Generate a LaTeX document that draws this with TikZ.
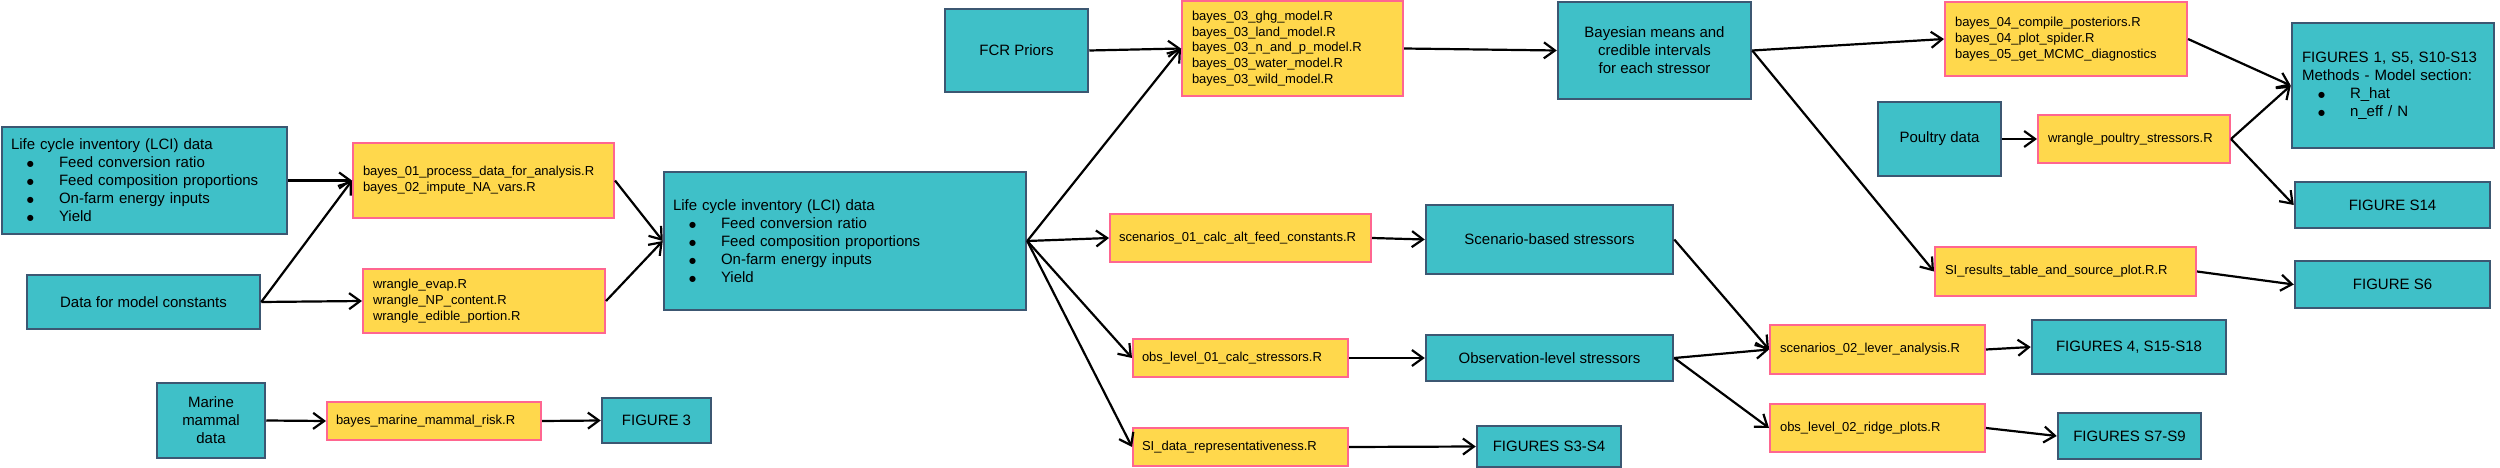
\documentclass[tikz,border=0pt]{standalone}
\usepackage{fontspec}
\setmainfont{Liberation Sans}
\newfontfamily\symfont{DejaVu Sans}
\usetikzlibrary{arrows.meta}
\definecolor{tealfill}{HTML}{3FC0C8}
\definecolor{tealline}{HTML}{3C5772}
\definecolor{yelfill}{HTML}{FFD84C}
\definecolor{pinkline}{HTML}{FF6690}
\newcommand\bitem[1]{\hspace*{16pt}\makebox[32pt][l]{\raisebox{1pt}{\symfont\fontsize{8}{8}\selectfont ●}}#1}
\begin{document}
\begin{tikzpicture}[x=1pt,y=-1pt,
  data/.style={draw=tealline, fill=tealfill, line width=2.5pt, font=\fontsize{15}{18}\selectfont, inner sep=0pt, align=center},
  script/.style={draw=pinkline, fill=yelfill, line width=2pt, font=\fontsize{13}{15.8}\selectfont, inner sep=0pt, align=left},
  arr/.style={-{Straight Barb[length=11pt,width=16pt]}, line width=2.2pt, black},
]
\useasboundingbox (0,0) rectangle (2500,468);

% data (teal) nodes
\node[data, minimum width=285pt, minimum height=107pt, text width=267pt, inner xsep=9pt, align=left] (lci1) at (144.5,180.5)
  {Life cycle inventory (LCI) data\\\bitem{Feed conversion ratio}\\\bitem{Feed composition proportions}\\\bitem{On-farm energy inputs}\\\bitem{Yield}};
\node[data, minimum width=233pt, minimum height=54pt] (const) at (143.5,302) {Data for model constants};
\node[data, minimum width=108pt, minimum height=75pt] (marine) at (211,420.5) {Marine\\mammal\\data};
\node[data, minimum width=109pt, minimum height=45pt] (fig3) at (656.5,420.5) {FIGURE 3};
\node[data, minimum width=362pt, minimum height=138pt, text width=344pt, inner xsep=9pt, align=left] (lci2) at (845,241)
  {Life cycle inventory (LCI) data\\\bitem{Feed conversion ratio}\\\bitem{Feed composition proportions}\\\bitem{On-farm energy inputs}\\\bitem{Yield}};
\node[data, minimum width=143pt, minimum height=83pt] (fcr) at (1016.5,50.5) {FCR Priors};
\node[data, minimum width=193pt, minimum height=97pt] (bayesm) at (1654.5,50.5) {Bayesian means and\\credible intervals\\for each stressor};
\node[data, minimum width=247pt, minimum height=69pt] (scen) at (1549.5,239.5) {Scenario-based stressors};
\node[data, minimum width=247pt, minimum height=46pt] (obs) at (1549.5,358) {Observation-level stressors};
\node[data, minimum width=144pt, minimum height=41pt] (figS3) at (1549,446.5) {FIGURES S3-S4};
\node[data, minimum width=123pt, minimum height=74pt] (poultry) at (1939.5,139) {Poultry data};
\node[data, minimum width=202pt, minimum height=125pt, text width=182pt, inner xsep=10pt, align=left] (fig1) at (2393,85.5)
  {FIGURES 1, S5, S10-S13\\Methods - Model section:\\\bitem{R\_hat}\\\bitem{n\_eff / N}};
\node[data, minimum width=195pt, minimum height=46pt] (figS14) at (2392.5,205) {FIGURE S14};
\node[data, minimum width=195pt, minimum height=47pt] (figS6) at (2392.5,284.5) {FIGURE S6};
\node[data, minimum width=194pt, minimum height=54pt] (fig4) at (2129,347) {FIGURES 4, S15-S18};
\node[data, minimum width=143pt, minimum height=46pt] (figS7) at (2129.5,436) {FIGURES S7-S9};

% script (yellow) nodes
\node[script, minimum width=261pt, minimum height=75pt, text width=241pt, inner xsep=10pt] (b01) at (483.5,180.5)
  {bayes\_01\_process\_data\_for\_analysis.R\\bayes\_02\_impute\_NA\_vars.R};
\node[script, minimum width=242pt, minimum height=64pt, text width=222pt, inner xsep=10pt] (wr) at (484,301)
  {wrangle\_evap.R\\wrangle\_NP\_content.R\\wrangle\_edible\_portion.R};
\node[script, minimum width=214pt, minimum height=38pt, text width=196pt, inner xsep=9pt] (bmm) at (434,421)
  {bayes\_marine\_mammal\_risk.R};
\node[script, minimum width=221pt, minimum height=95pt, text width=201pt, inner xsep=10pt] (b03) at (1292.5,48.5)
  {bayes\_03\_ghg\_model.R\\bayes\_03\_land\_model.R\\bayes\_03\_n\_and\_p\_model.R\\bayes\_03\_water\_model.R\\bayes\_03\_wild\_model.R};
\node[script, minimum width=261pt, minimum height=48pt, text width=243pt, inner xsep=9pt] (s01) at (1240.5,238)
  {scenarios\_01\_calc\_alt\_feed\_constants.R};
\node[script, minimum width=215pt, minimum height=38pt, text width=197pt, inner xsep=9pt] (o01) at (1240.5,358)
  {obs\_level\_01\_calc\_stressors.R};
\node[script, minimum width=215pt, minimum height=38pt, text width=197pt, inner xsep=9pt] (sid) at (1240.5,447)
  {SI\_data\_representativeness.R};
\node[script, minimum width=242pt, minimum height=74pt, text width=222pt, inner xsep=10pt] (b04) at (2066,39)
  {bayes\_04\_compile\_posteriors.R\\bayes\_04\_plot\_spider.R\\bayes\_05\_get\_MCMC\_diagnostics};
\node[script, minimum width=192pt, minimum height=48pt, text width=172pt, inner xsep=10pt] (wp) at (2134,139)
  {wrangle\_poultry\_stressors.R};
\node[script, minimum width=261pt, minimum height=49pt, text width=241pt, inner xsep=10pt] (sir) at (2065.5,271.5)
  {SI\_results\_table\_and\_source\_plot.R.R};
\node[script, minimum width=215pt, minimum height=49pt, text width=195pt, inner xsep=10pt] (s02) at (1877.5,349.5)
  {scenarios\_02\_lever\_analysis.R};
\node[script, minimum width=215pt, minimum height=48pt, text width=195pt, inner xsep=10pt] (o02) at (1877.5,428)
  {obs\_level\_02\_ridge\_plots.R};

% connectors
\draw[arr] (lci1.east) -- (b01.west);
\draw[arr] (const.east) -- (b01.west);
\draw[arr] (const.east) -- (wr.west);
\draw[arr] (b01.east) -- (lci2.west);
\draw[arr] (wr.east) -- (lci2.west);
\draw[arr] (marine.east) -- (bmm.west);
\draw[arr] (bmm.east) -- (fig3.west);
\draw[arr] (lci2.east) -- (b03.west);
\draw[arr] (lci2.east) -- (s01.west);
\draw[arr] (lci2.east) -- (o01.west);
\draw[arr] (lci2.east) -- (sid.west);
\draw[arr] (fcr.east) -- (b03.west);
\draw[arr] (b03.east) -- (bayesm.west);
\draw[arr] (bayesm.east) -- (b04.west);
\draw[arr] (bayesm.east) -- (sir.west);
\draw[arr] (s01.east) -- (scen.west);
\draw[arr] (o01.east) -- (obs.west);
\draw[arr] (sid.east) -- (figS3.west);
\draw[arr] (scen.east) -- (s02.west);
\draw[arr] (obs.east) -- (s02.west);
\draw[arr] (obs.east) -- (o02.west);
\draw[arr] (s02.east) -- (fig4.west);
\draw[arr] (o02.east) -- (figS7.west);
\draw[arr] (sir.east) -- (figS6.west);
\draw[arr] (poultry.east) -- (wp.west);
\draw[arr] (b04.east) -- (fig1.west);
\draw[arr] (wp.east) -- (fig1.west);
\draw[arr] (wp.east) -- (figS14.west);
\end{tikzpicture}
\end{document}
